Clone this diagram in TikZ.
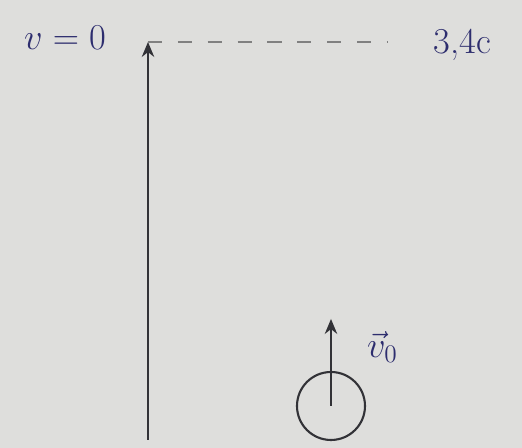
\documentclass[tikz,border=0pt]{standalone}
\usepackage{tikz}
\usetikzlibrary{arrows.meta, positioning}
\usepackage{amsmath}
\usepackage{xcolor}
\definecolor{paper}{RGB}{222,222,220}
\definecolor{ink}{RGB}{45,45,110}
\definecolor{pencil}{RGB}{50,50,55}

\begin{document}
\begin{tikzpicture}[
    label/.style={text=ink, font=\huge},
    arrow/.style={-{Stealth[length=3mm, width=2.5mm]}, thick, pencil},
    ball/.style={draw=pencil, very thick, circle, minimum size=1.36cm, inner sep=0pt},
]

% Paper
\fill[paper] (0, 0) rectangle (10.44, 8.96);
\useasboundingbox (0, 0) rectangle (10.44, 8.96);

% Path of the ball
\coordinate (bottom) at (2.96, 0.16);
\coordinate (top) at (2.96, 8.12);
\draw[arrow] (bottom) -- (top);

% Highest point
\node[label] (rest) at (1.3, 8.2) {$v=0$};
\node[label] (height) at (9.25, 8.06) {3,4c};
\draw[dashed, gray, thick, dash pattern=on 8pt off 9pt, shorten >=0.8cm] (top) -- (height.west |- top);

% Ball and initial velocity
\node[ball] (stone) at (6.62, 0.84) {};
\draw[arrow] (stone.center) -- ++(0, 1.74) coordinate (tip);
\node[label] (speed) at (7.65, 2.02) {$\vec{v}_0$};

\end{tikzpicture}
\end{document}
